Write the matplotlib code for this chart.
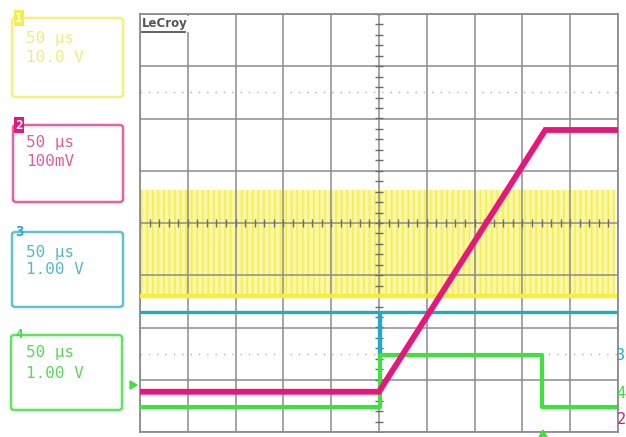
import numpy as np
import matplotlib
matplotlib.use("Agg")
import matplotlib.pyplot as plt
from matplotlib.patches import FancyBboxPatch

# ---- data (time in µs, amplitude in screen divisions) ----
mag_t = [-250, 0, 174, 247]
mag_v = [-3.23, -3.23, 1.78, 1.78]

grn_t = [-250, 1, 1, 171, 171, 247]
grn_v = [-3.52, -3.52, -2.52, -2.52, -3.52, -3.52]

cyn_t = [-250, 0, 0, 1.5, 1.5, 247]
cyn_v = [-1.70, -1.70, -2.55, -2.55, -1.70, -1.70]

yel_t = [-250, 247]
yel_low = -1.40
yel_high = 0.63

ch_labels = ["1", "2", "3", "4"]
ch_timebase = ["50 µs", "50 µs", "50 µs", "50 µs"]
ch_scale = ["10.0 V", "100mV", "1.00 V", "1.00 V"]

YEL = "#f3ef3a"
MAG = "#e6177a"
CYN = "#22a9c6"
GRN = "#3ee13e"
GRID = "#8c8c8c"

W, H = 626, 437
fig = plt.figure(figsize=(W / 100, H / 100), dpi=100)
fig.patch.set_facecolor("white")

def fx(px):
    return px / W

def fy(py):
    return 1 - py / H

ax = fig.add_axes([fx(140), fy(432), fx(618) - fx(140), fy(14) - fy(432)])
ax.set_xlim(-250, 250)
ax.set_ylim(-4, 4)
ax.set_facecolor("white")
for s in ax.spines.values():
    s.set_color(GRID)
    s.set_linewidth(1.3)
ax.set_xticks(np.arange(-250, 251, 50))
ax.set_yticks(np.arange(-4, 5, 1))
ax.tick_params(length=0, labelbottom=False, labelleft=False)
ax.grid(True, color=GRID, linewidth=1.1)
ax.set_axisbelow(True)

# dotted reference lines
for yv in (2.5, -2.5):
    ax.axhline(yv, color="#b0b0b0", linestyle=(0, (1, 5)), linewidth=1.0, zorder=0.6)

# center crosshair tick marks
ax.plot(np.arange(-250, 251, 10), np.zeros(51), linestyle="none", marker="|",
        markersize=6, color="#6a6a6a", markeredgewidth=1.0, zorder=1)
ax.plot(np.zeros(41), np.arange(-4, 4.01, 0.2), linestyle="none", marker="_",
        markersize=6, color="#6a6a6a", markeredgewidth=1.0, zorder=1)

# yellow PWM band (below grid so grid shows through)
plt.rcParams["hatch.linewidth"] = 1.3
ax.fill_between(yel_t, yel_low, yel_high, facecolor="#fbf7a0", alpha=0.9,
                edgecolor="#f4f04a", hatch="|||", linewidth=0, zorder=0.3)
ax.plot(yel_t, [yel_low, yel_low], color=YEL, linewidth=3.2, zorder=3)

# cyan, green, magenta
ax.plot(cyn_t, cyn_v, color=CYN, linewidth=2.4, zorder=4)
ax.plot(grn_t, grn_v, color=GRN, linewidth=3.0, zorder=5)
ax.plot(mag_t, mag_v, color=MAG, linewidth=4.2, zorder=6, solid_joinstyle="miter")

# LeCroy logo
fig.text(fx(142), fy(24), "LeCroy", fontsize=8.5, fontweight="bold", color="#555555",
         family="DejaVu Sans", va="center", ha="left", zorder=5,
         bbox=dict(facecolor="white", edgecolor="none", pad=1))
fig.add_artist(plt.Line2D([fx(142), fx(185)], [fy(32), fy(32)], color="#555555",
                          linewidth=1.3, zorder=10))

# channel boxes
boxes = [(12, 18, 111, 79), (13, 125, 110, 77), (12, 232, 111, 75), (11, 335, 111, 75)]
box_col = ["#f4f27a", "#e8629c", "#5cc4d6", "#5ee45e"]
txt_col = ["#eeec80", "#e0609a", "#56b8cc", "#5ad85a"]
line1_y = [38, 143, 252, 353]
line2_y = [58, 162, 270, 373]
for i in range(4):
    x0, y0, w, h = boxes[i]
    fig.add_artist(FancyBboxPatch((fx(x0), fy(y0 + h)), w / W, h / H,
                                  boxstyle="round,pad=0,rounding_size=0.006",
                                  transform=fig.transFigure, facecolor="white",
                                  edgecolor=box_col[i], linewidth=1.8))
    fig.text(fx(26), fy(line1_y[i]), ch_timebase[i], fontsize=11.5, color=txt_col[i],
             family="DejaVu Sans Mono", va="center", ha="left")
    fig.text(fx(26), fy(line2_y[i]), ch_scale[i], fontsize=11.5, color=txt_col[i],
             family="DejaVu Sans Mono", va="center", ha="left")

# channel number tags
fig.text(fx(19), fy(18), ch_labels[0], fontsize=9, color="#fffbd0", fontweight="bold",
         family="DejaVu Sans Mono", ha="center", va="center",
         bbox=dict(facecolor="#f2ee50", edgecolor="none", pad=0.8))
fig.text(fx(19), fy(125), ch_labels[1], fontsize=9, color="white", fontweight="bold",
         family="DejaVu Sans Mono", ha="center", va="center",
         bbox=dict(facecolor=MAG, edgecolor="none", pad=0.8))
fig.text(fx(19), fy(232), ch_labels[2], fontsize=10, color=CYN, fontweight="bold",
         family="DejaVu Sans Mono", ha="center", va="center")
fig.text(fx(19), fy(335), ch_labels[3], fontsize=9, color=GRN, fontweight="bold",
         family="DejaVu Sans Mono", ha="center", va="center")

# right-side channel markers
fig.text(fx(621), fy(355), "3", fontsize=11, color=CYN, family="DejaVu Sans Mono",
         ha="center", va="center")
fig.text(fx(621), fy(393), "4", fontsize=11, color=GRN, family="DejaVu Sans Mono",
         ha="center", va="center")
fig.text(fx(621), fy(420), "2", fontsize=11, color=MAG, family="DejaVu Sans Mono",
         ha="center", va="center")

# trigger markers
fig.add_artist(plt.Polygon([[fx(130), fy(381)], [fx(130), fy(389)], [fx(137), fy(385)]],
                           closed=True, color=GRN, transform=fig.transFigure))
fig.add_artist(plt.Polygon([[fx(539), fy(437)], [fx(547), fy(437)], [fx(543), fy(430)]],
                           closed=True, color=GRN, transform=fig.transFigure))

fig.savefig("out.png", dpi=100, facecolor="white")
